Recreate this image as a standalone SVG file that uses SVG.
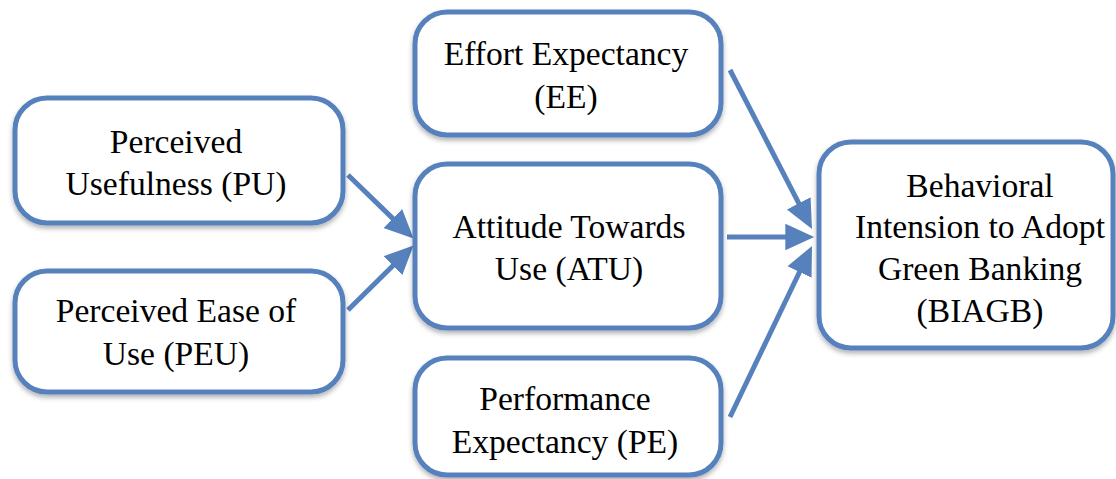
<svg xmlns="http://www.w3.org/2000/svg" width="1116" height="479" viewBox="0 0 1116 479">
<defs>
<filter id="sh" x="-10%" y="-10%" width="120%" height="130%">
<feDropShadow dx="0" dy="3" stdDeviation="2.5" flood-color="#000" flood-opacity="0.3"/>
</filter>
<marker id="ah" markerUnits="userSpaceOnUse" markerWidth="30" markerHeight="30" viewBox="0 -13 27 26" refX="6" refY="0" orient="auto">
<path d="M0,-12 L26,0 L0,12 z" fill="#5681bd"/>
</marker>
<style>
.box{fill:#fff;stroke:#5681bd;stroke-width:5;filter:url(#sh)}
.t{font-family:"Liberation Serif","Times New Roman",serif;font-size:33.6px;fill:#000;text-anchor:middle}
.c{stroke:#5681bd;stroke-width:5;fill:none;marker-end:url(#ah)}
</style>
</defs>
<rect width="1116" height="479" fill="#fff"/>
<g id="connectors">
<line class="c" x1="348" y1="175" x2="397.6" y2="223.1"/>
<line class="c" x1="348" y1="310" x2="397.7" y2="261"/>
<line class="c" x1="730" y1="70" x2="801.8" y2="209.2"/>
<line class="c" x1="727" y1="237" x2="792" y2="237"/>
<line class="c" x1="730" y1="417" x2="802.4" y2="266"/>
</g>
<g id="PU">
<rect class="box" x="15" y="98" width="328" height="125" rx="32"/>
<text class="t" x="176" y="153">Perceived</text>
<text class="t" x="176" y="195">Usefulness (PU)</text>
</g>
<g id="PEU">
<rect class="box" x="15" y="271" width="328" height="121" rx="32"/>
<text class="t" x="176" y="322">Perceived Ease of</text>
<text class="t" x="176" y="365">Use (PEU)</text>
</g>
<g id="EE">
<rect class="box" x="415" y="12" width="306" height="123" rx="32"/>
<text class="t" x="566" y="65">Effort Expectancy</text>
<text class="t" x="566" y="108">(EE)</text>
</g>
<g id="ATU">
<rect class="box" x="415" y="164" width="306" height="164" rx="32"/>
<text class="t" x="569" y="238">Attitude Towards</text>
<text class="t" x="569" y="280">Use (ATU)</text>
</g>
<g id="PE">
<rect class="box" x="415" y="358" width="306" height="117" rx="32"/>
<text class="t" x="565" y="410">Performance</text>
<text class="t" x="565" y="453">Expectancy (PE)</text>
</g>
<g id="BIAGB">
<rect class="box" x="819" y="142" width="294" height="206" rx="32"/>
<text class="t" x="980" y="197">Behavioral</text>
<text class="t" x="980" y="238">Intension to Adopt</text>
<text class="t" x="980" y="280">Green Banking</text>
<text class="t" x="980" y="322">(BIAGB)</text>
</g>
</svg>
